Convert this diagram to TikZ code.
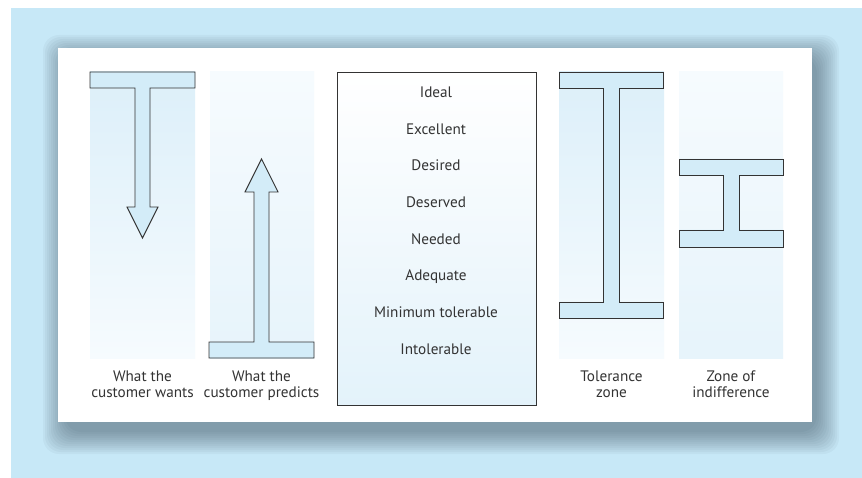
\documentclass[tikz,border=0pt]{standalone}
\usepackage{fontspec}
\setmainfont{PT Sans}
\usepackage{tikz}
\usetikzlibrary{calc}

\definecolor{skyback}{HTML}{C7E8F7}
\definecolor{shadowink}{RGB}{40,60,75}
\definecolor{barfill}{HTML}{D3ECF8}
\definecolor{paleblue}{HTML}{DCEFF9}
\definecolor{palewhite}{HTML}{F6FBFE}
\definecolor{inkgray}{HTML}{333333}

\tikzset{
  zonecol/.style={shade, shading=axis},
  beam/.style={draw=inkgray, line width=0.9pt, fill=barfill, line join=miter},
  caption/.style={font=\fontsize{15.2}{16.5}\selectfont, text=inkgray, align=center, inner sep=0pt, anchor=north},
  level/.style={font=\fontsize{15.2}{16}\selectfont, text=inkgray, anchor=base, inner sep=0pt}
}

\begin{document}
\begin{tikzpicture}[x=1pt, y=-1pt]
            \useasboundingbox (0,0) rectangle (862,478);
            \fill[skyback] (11,8) rectangle (862,478);
            % soft shadow behind the panel
            \foreach \r in {0,2,...,22}
                \fill[shadowink, opacity=0.045, rounded corners=16pt]
                    ($(65,57)-(\r,\r)$) rectangle ($(817,432)+(\r,\r)$);
            \fill[white] (58,48) rectangle (812,422);
            % pale columns
            \shade[zonecol, top color=paleblue, bottom color=palewhite] (90,72) rectangle (195,358);
            \shade[zonecol, top color=palewhite, bottom color=paleblue!70] (210,72) rectangle (314,358);
            \shade[zonecol, top color=paleblue, bottom color=palewhite] (559,72) rectangle (664,358);
            \shade[zonecol, top color=palewhite, bottom color=paleblue!70] (679,72) rectangle (783,358);
            % scale box
            \shade[top color=white, bottom color=paleblue!80, draw=inkgray, line width=0.9pt]
                (337,72) rectangle (536,405);
            % what the customer wants
            \filldraw[beam] (90,72) -- (195,72) -- (195,88) -- (150,88) -- (150,207) -- (158,207)
                -- (142.5,238) -- (127,207) -- (135,207) -- (135,88) -- (90,88) -- cycle;
            % what the customer predicts
            \filldraw[beam] (209,358) -- (314,358) -- (314,342) -- (269,342) -- (269,192) -- (278,192)
                -- (261.5,159) -- (245,192) -- (254,192) -- (254,342) -- (209,342) -- cycle;
            % tolerance zone
            \filldraw[beam] (559,72) -- (663,72) -- (663,88) -- (619,88) -- (619,302) -- (663,302)
                -- (663,318) -- (559,318) -- (559,302) -- (603,302) -- (603,88) -- (559,88) -- cycle;
            % zone of indifference
            \filldraw[beam] (679,159) -- (783,159) -- (783,175) -- (739,175) -- (739,230) -- (783,230)
                -- (783,247) -- (679,247) -- (679,230) -- (723,230) -- (723,175) -- (679,175) -- cycle;
            % levels
            \node[level] (ideal) at (436,97.7) {Ideal};
            \node[level] (excellent) at (436,134.3) {Excellent};
            \node[level] (desired) at (436,171) {Desired};
            \node[level] (deserved) at (436,207.6) {Deserved};
            \node[level] (needed) at (436,244.2) {Needed};
            \node[level] (adequate) at (436,280.8) {Adequate};
            \node[level] (mintol) at (436,317.4) {Minimum tolerable};
            \node[level] (intol) at (436,354) {Intolerable};
            % captions
            \node[caption] (wants) at (142.5,370.5) {What the\\customer wants};
            \node[caption] (predicts) at (261.5,370.5) {What the\\customer predicts};
            \node[caption] (tolzone) at (611.5,370.5) {Tolerance\\zone};
            \node[caption] (indiff) at (731,370.5) {Zone of\\indifference};
        \end{tikzpicture}
\end{document}
